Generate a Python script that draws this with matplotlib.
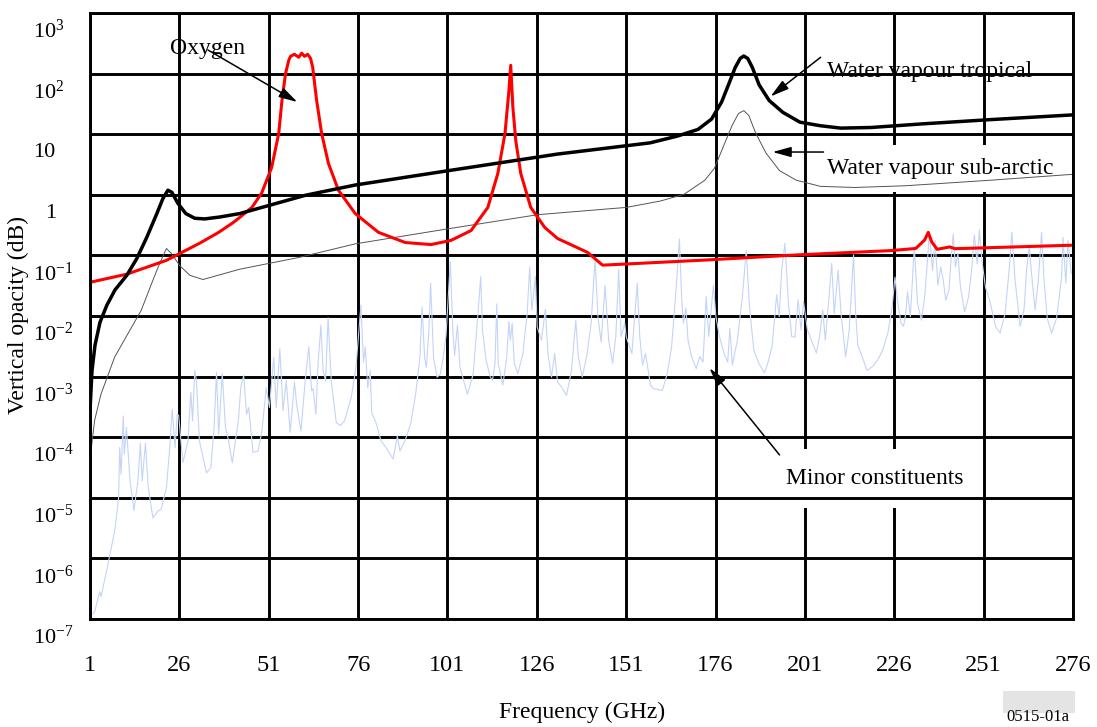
import numpy as np
import matplotlib
matplotlib.use("Agg")
import matplotlib.pyplot as plt
from matplotlib.transforms import ScaledTranslation
from matplotlib.patches import Rectangle

plt.rcParams["font.family"] = ["Liberation Serif", "DejaVu Serif"]
plt.rcParams["mathtext.fontset"] = "custom"
plt.rcParams["mathtext.rm"] = "Liberation Serif"
plt.rcParams["mathtext.it"] = "Liberation Serif:italic"

# --- data (frequency in GHz, opacity in dB) ---
freq_ticks = list(range(1, 277, 25))
decades = list(range(-7, 4))
ytick_labels = ["$10^{-7}$", "$10^{-6}$", "$10^{-5}$", "$10^{-4}$", "$10^{-3}$",
                "$10^{-2}$", "$10^{-1}$", "1", "10", "$10^{2}$", "$10^{3}$"]

oxygen_f = [1, 11.3, 22.4, 31.6, 37, 40.8, 42.6, 46.3, 49.0, 51.8, 53.8, 54.7, 55.7,
            56.6, 57.1, 58.2, 59.4, 60.2, 61.0, 61.9, 62.7, 63.3, 64.4, 65.8, 67.7,
            70.5, 75.2, 81.7, 89.2, 96.4, 102.0, 107.6, 112.3, 115.1, 117.1, 118.2,
            118.7, 119.3, 120.1, 121.5, 124.3, 128.2, 131.8, 140.2, 144.4, 171.8, 199,
            225, 232, 234.5, 235.5, 236.5, 238, 241.5, 243, 277]
oxygen_db = [0.036, 0.049, 0.083, 0.158, 0.24, 0.34, 0.41, 0.62, 1.06, 2.8, 10.3, 36, 100,
             165, 193, 208, 186, 217, 193, 208, 178, 127, 36, 10.3, 3.3,
             1.19, 0.49, 0.24, 0.163, 0.151, 0.177, 0.257, 0.62, 2.26, 10.3, 53,
             137, 28, 7.9, 2.26, 0.62, 0.29, 0.19, 0.112, 0.069, 0.083, 0.102,
             0.12, 0.13, 0.18, 0.24, 0.166, 0.126, 0.138, 0.129, 0.148]

tropical_f = [1, 1.56, 2.4, 3.8, 5.7, 8.0, 11.3, 14.1, 16.9, 19.7, 21.4, 22.8, 23.9, 25.6,
              27.8, 30.3, 33.1, 37.3, 42.9, 61.2, 75.2, 101.2, 131.8, 157.7, 165.3,
              171.1, 174.9, 177.7, 179.6, 181.5, 182.9, 183.9, 185.0, 186.3, 188.2,
              191.0, 194.8, 199.6, 205.3, 211, 219.5, 233.8, 252.9, 277]
tropical_db = [2.8e-4, 1.26e-3, 3.3e-3, 7.9e-3, 1.5e-2, 2.7e-2, 4.7e-2, 8.9e-2, 0.2, 0.49,
               0.87, 1.19, 1.1, 0.72, 0.49, 0.41, 0.40, 0.43, 0.49, 0.98, 1.45, 2.5, 4.7,
               7.2, 9.3, 12, 17.8, 34, 65, 126, 178, 195, 178, 126, 65, 36, 23, 15.8,
               13.8, 12.6, 12.9, 14.8, 17.4, 21]

subarctic_f = [1, 1.4, 2.3, 4.1, 7.9, 11.6, 15.3, 18.6, 20.5, 22.4, 23.8, 26.1, 28.9, 32.6,
               42.8, 59.6, 75.2, 101.2, 126.3, 151.1, 160.6, 167.2, 173, 175.7, 178.2,
               180.6, 182.4, 183.9, 185.3, 187.2, 190.1, 193.9, 198.6, 205.3, 214.8,
               229.1, 252.9, 277]
subarctic_db = [4.0e-5, 6.9e-5, 1.9e-4, 5.2e-4, 2.1e-3, 5.1e-3, 1.23e-2, 3.9e-2, 7.4e-2,
                0.13, 0.107, 0.068, 0.047, 0.04, 0.059, 0.093, 0.155, 0.275, 0.47, 0.62,
                0.79, 1.02, 1.74, 2.75, 6.3, 13.8, 21.9, 24.5, 20.4, 10.5, 4.9, 2.5,
                1.74, 1.38, 1.32, 1.41, 1.74, 2.2]

# minor constituents, read as log10(dB)
minor_f = [1.0, 1.4, 2.3, 3.7, 4.1, 6.0, 7.9, 9.0, 9.3, 9.7, 10.3, 10.6, 11.2, 12.2,
           13.3, 14.4, 15.1, 15.6, 16.5, 17.3, 18.6, 20.0, 20.9, 22.4, 23.3, 24.0,
           24.8, 25.4, 25.8, 27.0, 28.4, 29.2, 29.7, 30.3, 30.8, 31.6, 33.6, 34.8,
           35.7, 36.4, 37.0, 38.0, 38.9, 39.6, 40.8, 42.5, 43.2, 44.0, 44.8, 45.4,
           46.6, 48.0, 49.1, 50.3, 51.2, 52.4, 53.1, 54.1, 55.0, 55.9,
           57.0, 58.2, 58.8, 60.0, 61.3, 62.2, 63.0, 63.4, 64.2, 64.8, 65.6, 66.2,
           66.9, 67.6, 68.5, 69.9, 71.1, 72.2, 74.1, 75.4, 76.8, 77.5, 78.0, 78.7,
           79.4, 79.8, 81.0, 82.4, 83.8, 85.8, 87.0, 87.7, 89.3, 90.7, 92.1, 93.3,
           93.9, 94.6, 95.1, 95.8, 96.3, 97.1, 98.1, 99.0, 99.7, 100.6, 101.8, 102.5,
           103.0, 103.8, 104.5, 106.6, 108.2, 109.6,
           110.3, 110.8, 111.8, 113.0, 113.6, 114.3, 114.8, 115.2, 116.5, 117.6,
           118.2, 118.6, 119.1, 119.7, 120.7, 122.1, 123.3, 124.0, 124.6, 125.6,
           126.1, 127.3, 128.4, 129.1, 130.1, 131.0, 131.8, 132.9, 134.3, 135.7,
           136.9, 137.6, 138.7, 140.0, 141.2, 142.3, 143.1, 144.0, 145.1, 146.1,
           147.2, 148.1, 148.9, 149.6, 150.6, 151.0, 152.6, 154.1, 154.8, 155.6,
           156.4, 157.8, 158.7, 161.1, 162.5, 163.7, 164.9, 165.9,
           166.5, 167.0, 167.7, 168.3, 169.3, 170.6, 171.6, 172.5, 173.4, 174.1,
           175.4, 176.1, 177.1, 178.4, 179.4, 180.0, 180.7, 182.1, 183.5, 184.6,
           185.5, 186.7, 188.1, 189.7, 190.7, 191.8, 193.1, 193.8, 194.5, 195.4,
           196.4, 197.3, 198.2, 199.1, 199.9, 200.6, 201.7, 202.8, 204.2, 205.1,
           206.0, 206.7, 207.6, 208.5, 209.2, 210.3, 211.1, 212.4, 213.4, 214.6,
           215.2, 215.8, 217.0, 218.4,
           220.0, 221.4, 222.8, 224.2, 225.3, 226.2, 227.0, 227.9, 228.6, 229.2,
           229.7, 230.5, 231.6, 232.5, 233.6, 234.5, 235.3, 235.8, 236.7, 237.4,
           238.2, 239.0, 239.7, 240.4, 241.3, 241.8, 242.5, 243.1, 243.8, 244.5,
           245.7, 246.8, 247.8, 248.4, 249.2, 249.8, 250.5, 251.5, 252.9, 254.3,
           255.6, 257.0, 258.2, 258.9, 259.8, 261.2, 262.3, 263.0, 263.8, 264.4,
           265.4, 266.3, 267.2, 267.9, 268.8, 270.0, 271.4, 272.8, 273.2, 274.0,
           274.6, 275.5]
minor_log10 = [-6.96, -6.93, -6.88, -6.55, -6.63, -6.10, -5.55, -5.0, -4.17, -4.61, -3.65,
               -4.28, -3.84, -4.72, -5.21, -4.72, -4.10, -4.72, -4.10, -4.83, -5.33, -5.22,
               -5.19, -4.83, -4.17, -3.54, -4.17, -3.62, -3.64, -4.42, -4.06, -3.26, -3.73,
               -2.90, -3.07, -4.06, -4.59, -4.50, -3.84, -2.93, -3.95, -2.95, -3.84, -4.01,
               -4.42, -3.73, -3.17, -2.98, -3.62, -3.51, -4.25, -4.23, -3.90, -3.18, -3.51,
               -2.68, -3.51, -2.54, -3.56, -3.07,
               -3.92, -3.09, -3.45, -3.90, -3.01, -2.51, -3.23, -3.20, -3.62, -2.79, -2.15,
               -2.90, -3.07, -2.03, -3.07, -3.76, -3.81, -3.73, -3.34, -2.85, -1.82, -2.76,
               -2.51, -3.18, -2.90, -3.59, -3.76, -4.06, -4.17, -4.36, -3.98, -4.23, -4.03,
               -3.78, -3.29, -2.68, -1.85, -2.68, -2.85, -2.24, -1.46, -2.68, -3.01, -2.96,
               -2.73, -2.32, -1.10, -2.24, -2.65, -2.15, -2.85, -3.29, -2.96, -1.91,
               -1.35, -2.23, -2.73, -3.01, -3.06, -2.78, -1.80, -2.78, -3.14, -2.67,
               -2.09, -2.40, -2.12, -2.78, -2.95, -2.62, -1.96, -1.19, -1.90, -1.35,
               -2.18, -2.40, -1.89, -2.62, -3.01, -2.62, -3.09, -3.17, -3.31, -2.90,
               -2.07, -2.67, -3.01, -2.65, -2.12, -1.06, -2.01, -2.43, -1.50, -2.40,
               -2.78, -2.34, -1.23, -2.34, -2.12, -2.34, -2.62, -1.46, -2.34, -2.81,
               -2.62, -3.14, -3.20, -3.23, -2.95, -2.51, -1.60, -0.73,
               -1.68, -2.12, -1.87, -2.40, -2.67, -2.87, -2.67, -2.76, -1.68, -2.34,
               -1.49, -2.01, -2.34, -2.62, -2.76, -2.20, -2.81, -2.40, -1.68, -0.92,
               -1.85, -2.56, -2.78, -2.94, -2.76, -2.51, -1.65, -2.01, -1.24, -0.80,
               -1.79, -2.34, -2.35, -1.73, -2.23, -1.76, -2.23, -2.40, -2.61, -2.34,
               -1.90, -2.40, -1.79, -1.13, -1.96, -1.24, -1.96, -2.67, -2.23, -0.99,
               -1.96, -2.48, -2.67, -2.90,
               -2.83, -2.72, -2.56, -2.28, -1.90, -1.36, -1.79, -2.12, -2.17, -1.96,
               -1.60, -2.01, -0.86, -1.79, -2.07, -1.68, -1.08, -0.62, -1.25, -0.75,
               -1.49, -1.19, -1.41, -1.74, -1.57, -1.14, -0.65, -1.19, -0.97, -1.52,
               -1.93, -1.68, -1.14, -0.66, -1.14, -0.58, -1.08, -1.52, -1.79, -2.17,
               -2.28, -1.96, -1.19, -0.62, -1.41, -2.17, -1.90, -1.25, -0.84, -1.30,
               -1.90, -1.41, -0.62, -1.41, -2.04, -2.28, -2.04, -1.36, -0.70, -1.46,
               -0.75, -1.30]

# --- figure ---
fig = plt.figure(figsize=(10.97, 7.27), dpi=100)
ax = fig.add_axes([90 / 1097, 1 - 619 / 727, 983 / 1097, 606 / 727])

ax.plot(minor_f, 10.0 ** np.array(minor_log10), color="#c3d4f7", lw=0.8, zorder=2)
ax.plot(subarctic_f, subarctic_db, color="#555555", lw=0.7, zorder=2.1)
ax.plot(oxygen_f, oxygen_db, color="#ff0000", lw=2.2, zorder=2.2,
        solid_joinstyle="round")
ax.plot(tropical_f, tropical_db, color="black", lw=2.5, zorder=2.3,
        solid_joinstyle="round")

ax.set_yscale("log")
ax.set_xlim(1, 276)
ax.set_ylim(1e-7, 1e3)
ax.set_xticks(freq_ticks)
ax.set_xticklabels([str(t) for t in freq_ticks])
ax.set_yticks([10.0 ** d for d in decades])
ax.set_yticklabels(ytick_labels)
ax.minorticks_off()
ax.tick_params(axis="both", length=0)
ax.tick_params(axis="x", pad=26, labelsize=17.5)
ax.tick_params(axis="y", pad=41, labelsize=16)
for lab in ax.get_yticklabels():
    lab.set_horizontalalignment("left")
    dx = 12.5 / 100 if lab.get_text() == "1" else 0
    lab.set_transform(lab.get_transform() + ScaledTranslation(dx, -16 / 100, fig.dpi_scale_trans))

ax.grid(True, color="black", lw=2.1)
ax.yaxis.set_zorder(1.95)
for sp in ax.spines.values():
    sp.set_linewidth(2.1)
    sp.set_color("black")

# annotations
arrow = dict(arrowstyle="-|>,head_length=0.8,head_width=0.22", color="black",
             lw=1.1, mutation_scale=14, shrinkA=0, shrinkB=0)
ax.text(23.4, 263, "Oxygen", fontsize=17, ha="left", va="center", zorder=3)
ax.annotate("", xy=(59.0, 34), xytext=(34.0, 245), arrowprops=arrow, zorder=3)

ax.text(207.1, 110, "Water vapour tropical", fontsize=17, ha="left", va="center", zorder=3)
ax.annotate("", xy=(191.4, 42), xytext=(205.4, 186), arrowprops=arrow, zorder=3)

ax.text(207.1, 2.67, "Water vapour sub-arctic", fontsize=17, ha="left", va="center",
        zorder=1.8, bbox=dict(boxstyle="square,pad=0.55", fc="white", ec="none"))
ax.annotate("", xy=(191.96, 5.08), xytext=(206.2, 5.08), arrowprops=arrow, zorder=3)

ax.text(195.6, 2.1e-5, "Minor constituents", fontsize=17, ha="left", va="center",
        zorder=1.8, bbox=dict(boxstyle="square,pad=0.8", fc="white", ec="none"))
ax.annotate("", xy=(174.3, 1.38e-3), xytext=(193.9, 5.1e-5), arrowprops=arrow, zorder=3)

fig.text(18 / 1097, 1 - 315 / 727, "Vertical opacity (dB)", fontsize=17,
         rotation=90, ha="center", va="center")
fig.text(582 / 1097, 1 - 712 / 727, "Frequency (GHz)", fontsize=17, ha="center", va="center")

fig.patches.append(Rectangle((1003 / 1097, 1 - 713 / 727), 72 / 1097, 22 / 727,
                             transform=fig.transFigure, facecolor="#e4e4e4",
                             edgecolor="none", zorder=0))
fig.text(1038 / 1097, 2 / 727, "0515-01a", fontsize=12, ha="center", va="bottom")

fig.savefig("out.png", dpi=100)
